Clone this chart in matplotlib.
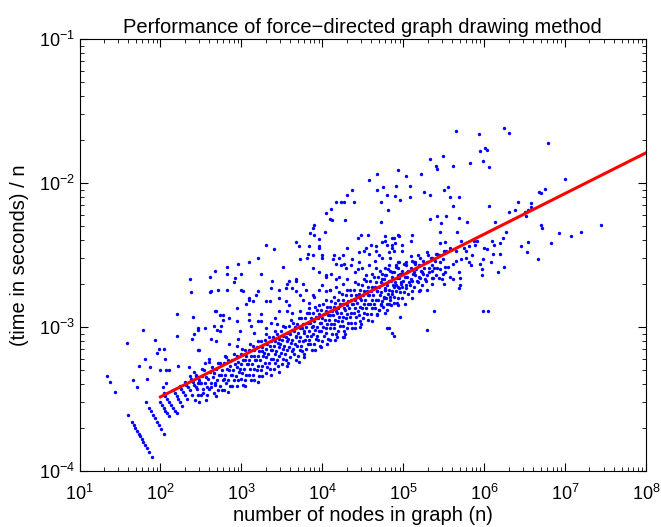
import numpy as np
import matplotlib.pyplot as plt

# all values stored as log10: log_n = log10(number of nodes), log_tn = log10(seconds per node)

# small graphs, where the timer resolution shows up as diagonal streaks
small_log_n = [1.34, 1.38, 1.44, 1.59, 1.60,
               1.65, 1.67, 1.69, 1.71, 1.73, 1.75, 1.77, 1.79, 1.81, 1.83, 1.86, 1.89,
               1.66, 1.71, 1.74, 1.79, 1.81, 1.84, 1.82,
               1.86, 1.88, 1.91, 1.93, 1.96, 1.98, 2.01, 2.04,
               1.87, 1.93, 1.96, 1.98, 2.04, 2.00, 2.07, 2.06, 2.03, 2.07,
               2.00, 2.02, 2.04, 2.06, 2.08, 2.10,
               2.04, 2.06, 2.08, 2.11, 2.13, 2.15, 2.18, 2.20,
               2.16, 2.18, 2.20, 2.22, 2.24, 2.27,
               2.24, 2.26, 2.28, 2.30, 2.33,
               2.30, 2.32, 2.34, 2.36, 2.39,
               2.36, 2.38, 2.40, 2.42, 2.44,
               2.42, 2.44, 2.46, 2.48, 2.50,
               2.11, 2.20, 2.20, 2.22, 2.35, 2.40, 2.41, 2.39, 2.47, 2.47, 2.36]
small_log_tn = [-3.34, -3.38, -3.45, -3.11, -3.61,
                -3.66, -3.68, -3.70, -3.72, -3.74, -3.76, -3.78, -3.80, -3.82, -3.84, -3.87, -3.90,
                -3.37, -3.42, -3.27, -3.02, -3.22, -3.36, -3.52,
                -3.56, -3.58, -3.61, -3.63, -3.66, -3.68, -3.71, -3.74,
                -3.28, -3.09, -3.18, -3.15, -3.15, -3.30, -3.30, -3.22, -3.42, -3.39,
                -3.52, -3.54, -3.56, -3.58, -3.60, -3.62,
                -3.46, -3.48, -3.50, -3.52, -3.54, -3.56, -3.58, -3.60,
                -3.44, -3.46, -3.48, -3.50, -3.52, -3.55,
                -3.41, -3.43, -3.45, -3.47, -3.50,
                -3.38, -3.40, -3.42, -3.44, -3.47,
                -3.34, -3.36, -3.38, -3.40, -3.42,
                -3.31, -3.33, -3.35, -3.37, -3.39,
                -3.30, -2.91, -3.06, -3.27, -3.28, -2.93, -3.05, -3.08, -3.02, -3.16, -2.67]

# main band of medium sized graphs
band_log_n = [2.44, 2.46, 2.45, 2.47, 2.43,
              2.51, 2.49, 2.52, 2.50, 2.48, 2.51,
              2.54, 2.56, 2.55, 2.57, 2.53, 2.56,
              2.61, 2.59, 2.62, 2.60, 2.58, 2.60,
              2.64, 2.66, 2.65, 2.67, 2.63, 2.66,
              2.71, 2.69, 2.72, 2.70, 2.68, 2.71, 2.69,
              2.74, 2.76, 2.75, 2.77, 2.73, 2.76,
              2.81, 2.79, 2.82, 2.80, 2.78, 2.81, 2.79,
              2.84, 2.86, 2.85, 2.87, 2.83, 2.86, 2.84,
              2.91, 2.89, 2.92, 2.90, 2.88, 2.91, 2.89,
              2.94, 2.96, 2.95, 2.97, 2.93, 2.96, 2.94, 2.95,
              3.01, 2.99, 3.02, 3.00, 2.98, 3.01, 2.99, 3.02,
              3.04, 3.06, 3.05, 3.07, 3.03, 3.06, 3.04, 3.05,
              3.11, 3.09, 3.12, 3.10, 3.08, 3.11, 3.09, 3.12,
              3.14, 3.16, 3.15, 3.17, 3.13, 3.16, 3.14, 3.15, 3.16,
              3.21, 3.19, 3.22, 3.20, 3.18, 3.21, 3.19, 3.22, 3.20,
              3.24, 3.26, 3.25, 3.27, 3.23, 3.26, 3.24, 3.25,
              3.31, 3.29, 3.32, 3.30, 3.28, 3.31, 3.29, 3.32, 3.30,
              3.34, 3.36, 3.35, 3.37, 3.33, 3.36, 3.34, 3.35, 3.37, 3.36,
              3.41, 3.39, 3.42, 3.40, 3.38, 3.41, 3.39, 3.42, 3.40,
              3.44, 3.46, 3.45, 3.47, 3.43, 3.46, 3.44, 3.45, 3.47, 3.44,
              3.51, 3.49, 3.52, 3.50, 3.48, 3.51, 3.49, 3.52, 3.50,
              3.54, 3.56, 3.55, 3.57, 3.53, 3.56, 3.54, 3.55, 3.57, 3.56,
              3.61, 3.59, 3.62, 3.60, 3.58, 3.61, 3.59, 3.62, 3.60, 3.58,
              3.64, 3.66, 3.65, 3.67, 3.63, 3.66, 3.64, 3.65, 3.67, 3.63,
              3.71, 3.69, 3.72, 3.70, 3.68, 3.71, 3.69, 3.72, 3.70, 3.71,
              3.74, 3.76, 3.75, 3.77, 3.73, 3.76, 3.74, 3.75, 3.77, 3.76,
              3.81, 3.79, 3.82, 3.80, 3.78, 3.81, 3.79, 3.82, 3.80, 3.78,
              3.84, 3.86, 3.85, 3.87, 3.83, 3.86, 3.84, 3.85, 3.87, 3.84,
              3.91, 3.89, 3.92, 3.90, 3.88, 3.91, 3.89, 3.92, 3.90, 3.91,
              3.94, 3.96, 3.95, 3.97, 3.93, 3.96, 3.94, 3.95, 3.97, 3.96,
              4.01, 3.99, 4.02, 4.00, 3.98, 4.01, 3.99, 4.02, 4.00, 3.98,
              4.04, 4.06, 4.05, 4.07, 4.03, 4.06, 4.04, 4.05, 4.07, 4.06,
              4.11, 4.09, 4.12, 4.10, 4.08, 4.11, 4.09, 4.12, 4.10, 4.09,
              4.14, 4.16, 4.15, 4.17, 4.13, 4.16, 4.14, 4.15, 4.17, 4.16,
              4.21, 4.19, 4.22, 4.20, 4.18, 4.21, 4.19, 4.22, 4.20, 4.18, 4.21,
              4.24, 4.26, 4.25, 4.27, 4.23, 4.26, 4.24, 4.25, 4.27, 4.26,
              4.31, 4.29, 4.32, 4.30, 4.28, 4.31, 4.29, 4.32, 4.30, 4.28, 4.30,
              4.34, 4.36, 4.35, 4.37, 4.33, 4.36, 4.34, 4.35, 4.37,
              4.41, 4.39, 4.42, 4.40, 4.38, 4.41, 4.39, 4.42, 4.40, 4.41,
              4.44, 4.46, 4.45, 4.47, 4.43, 4.46, 4.44, 4.45, 4.47, 4.46, 4.44,
              4.51, 4.49, 4.52, 4.50, 4.48, 4.51, 4.49, 4.52, 4.50, 4.48,
              4.54, 4.56, 4.55, 4.57, 4.53, 4.56, 4.54, 4.55, 4.57,
              4.61, 4.59, 4.62, 4.60, 4.58, 4.61, 4.59, 4.62, 4.60, 4.61,
              4.64, 4.66, 4.65, 4.67, 4.63, 4.66, 4.64, 4.65, 4.67, 4.65,
              4.71, 4.69, 4.72, 4.70, 4.68, 4.71, 4.69, 4.72, 4.70, 4.68,
              4.74, 4.76, 4.75, 4.77, 4.73, 4.76, 4.74, 4.75, 4.77,
              4.81, 4.79, 4.82, 4.80, 4.78, 4.81, 4.79, 4.82, 4.80,
              4.84, 4.86, 4.85, 4.87, 4.83, 4.86, 4.84, 4.85,
              4.91, 4.89, 4.92, 4.90, 4.88, 4.91, 4.89, 4.92,
              4.94, 4.96, 4.95, 4.97, 4.93, 4.96, 4.94,
              5.01, 4.99, 5.02, 5.00, 4.98, 5.01, 4.99,
              5.04, 5.06, 5.05, 5.07, 5.03, 5.06,
              5.11, 5.09, 5.12, 5.10, 5.08, 5.11,
              5.14, 5.16, 5.15, 5.17, 5.13,
              5.21, 5.19, 5.22, 5.20, 5.18, 5.21,
              5.24, 5.26, 5.25, 5.27, 5.23,
              5.31, 5.29, 5.32, 5.30, 5.28,
              5.34, 5.36, 5.35, 5.37,
              5.41, 5.39, 5.42, 5.40,
              5.44, 5.46, 5.45,
              5.51, 5.49, 5.52]
band_log_tn = [-3.34, -3.39, -3.43, -3.47, -3.51,
               -3.34, -3.39, -3.43, -3.47, -3.52, -3.29,
               -3.30, -3.35, -3.39, -3.42, -3.46, -3.51,
               -3.31, -3.36, -3.39, -3.43, -3.47, -3.24,
               -3.28, -3.32, -3.35, -3.39, -3.42, -3.46,
               -3.25, -3.29, -3.33, -3.37, -3.40, -3.44, -3.48,
               -3.25, -3.30, -3.33, -3.37, -3.41, -3.44,
               -3.21, -3.25, -3.29, -3.33, -3.36, -3.39, -3.44,
               -3.23, -3.27, -3.30, -3.33, -3.37, -3.41, -3.45,
               -3.19, -3.23, -3.26, -3.30, -3.33, -3.37, -3.41,
               -3.20, -3.24, -3.28, -3.31, -3.34, -3.37, -3.41, -3.13,
               -3.15, -3.19, -3.23, -3.26, -3.29, -3.32, -3.36, -3.40,
               -3.16, -3.20, -3.23, -3.26, -3.29, -3.33, -3.37, -3.41,
               -3.12, -3.16, -3.20, -3.23, -3.26, -3.29, -3.33, -3.37,
               -3.13, -3.16, -3.20, -3.23, -3.26, -3.29, -3.33, -3.37, -3.04,
               -3.10, -3.14, -3.17, -3.20, -3.23, -3.27, -3.30, -3.34, -3.38,
               -3.10, -3.14, -3.17, -3.20, -3.23, -3.27, -3.30, -3.34,
               -3.05, -3.09, -3.12, -3.15, -3.18, -3.21, -3.25, -3.28, -3.32,
               -3.07, -3.10, -3.13, -3.16, -3.19, -3.22, -3.25, -3.29, -3.33, -2.97,
               -3.03, -3.07, -3.10, -3.13, -3.16, -3.19, -3.22, -3.25, -3.29,
               -3.05, -3.08, -3.11, -3.14, -3.17, -3.20, -3.23, -3.27, -3.31, -2.98,
               -2.99, -3.03, -3.06, -3.09, -3.12, -3.15, -3.18, -3.22, -3.26,
               -3.00, -3.04, -3.07, -3.10, -3.13, -3.16, -3.19, -3.23, -3.27, -2.89,
               -2.95, -2.99, -3.02, -3.05, -3.08, -3.11, -3.14, -3.17, -3.21, -3.25,
               -2.97, -3.00, -3.03, -3.06, -3.09, -3.12, -3.15, -3.19, -3.23, -2.90,
               -2.94, -2.98, -3.01, -3.04, -3.07, -3.10, -3.13, -3.16, -3.20, -3.24,
               -2.94, -2.98, -3.01, -3.04, -3.07, -3.10, -3.13, -3.17, -3.21, -2.81,
               -2.90, -2.94, -2.97, -3.00, -3.03, -3.06, -3.09, -3.12, -3.15, -3.19,
               -2.90, -2.94, -2.97, -3.00, -3.03, -3.06, -3.09, -3.12, -3.16, -2.83,
               -2.86, -2.90, -2.93, -2.96, -2.99, -3.02, -3.05, -3.08, -3.12, -3.16,
               -2.88, -2.91, -2.94, -2.97, -3.00, -3.03, -3.06, -3.09, -3.13, -2.74,
               -2.84, -2.88, -2.91, -2.94, -2.97, -3.00, -3.03, -3.06, -3.10, -3.14,
               -2.81, -2.86, -2.89, -2.92, -2.95, -2.98, -3.01, -3.04, -3.08, -3.12,
               -2.82, -2.86, -2.89, -2.92, -2.95, -2.98, -3.01, -3.05, -3.09, -2.74,
               -2.79, -2.83, -2.86, -2.89, -2.92, -2.95, -2.98, -3.01, -3.05, -3.09,
               -2.76, -2.81, -2.84, -2.87, -2.90, -2.93, -2.96, -2.99, -3.03, -3.07, -2.65,
               -2.77, -2.81, -2.84, -2.87, -2.90, -2.93, -2.96, -2.99, -3.03, -3.07,
               -2.74, -2.78, -2.82, -2.85, -2.88, -2.91, -2.94, -2.97, -3.01, -3.05, -2.67,
               -2.74, -2.78, -2.81, -2.84, -2.87, -2.90, -2.93, -2.97, -3.01,
               -2.69, -2.74, -2.78, -2.81, -2.84, -2.87, -2.90, -2.93, -2.97, -3.01,
               -2.70, -2.74, -2.77, -2.80, -2.83, -2.86, -2.89, -2.92, -2.96, -3.00, -2.60,
               -2.67, -2.71, -2.75, -2.78, -2.81, -2.84, -2.87, -2.90, -2.94, -2.98,
               -2.68, -2.72, -2.75, -2.78, -2.81, -2.84, -2.87, -2.91, -2.95,
               -2.63, -2.68, -2.72, -2.75, -2.78, -2.81, -2.84, -2.87, -2.91, -2.96,
               -2.65, -2.69, -2.72, -2.75, -2.78, -2.81, -2.84, -2.87, -2.91, -2.54,
               -2.61, -2.65, -2.69, -2.72, -2.75, -2.78, -2.81, -2.84, -2.88, -2.92,
               -2.63, -2.67, -2.70, -2.73, -2.76, -2.79, -2.82, -2.86, -2.90,
               -2.60, -2.64, -2.68, -2.71, -2.74, -2.77, -2.80, -2.84, -2.88,
               -2.61, -2.65, -2.68, -2.71, -2.74, -2.77, -2.81, -2.85,
               -2.58, -2.62, -2.66, -2.69, -2.72, -2.75, -2.79, -2.83,
               -2.59, -2.63, -2.66, -2.69, -2.72, -2.76, -2.80,
               -2.56, -2.61, -2.65, -2.68, -2.72, -2.76, -2.80,
               -2.57, -2.61, -2.65, -2.69, -2.73, -2.77,
               -2.54, -2.59, -2.63, -2.67, -2.71, -2.75,
               -2.56, -2.60, -2.64, -2.68, -2.72,
               -2.52, -2.57, -2.61, -2.65, -2.69, -2.74,
               -2.54, -2.59, -2.63, -2.67, -2.71,
               -2.50, -2.55, -2.59, -2.64, -2.68,
               -2.52, -2.57, -2.61, -2.66,
               -2.49, -2.54, -2.59, -2.64,
               -2.50, -2.55, -2.60,
               -2.47, -2.53, -2.58]

# slower runs scattered above (and a few below) the band
upper_log_n = [2.38, 2.61, 2.82, 3.00, 2.46, 2.48, 2.68, 2.74, 2.77, 2.85, 2.75, 2.63, 2.69, 2.74,
               2.94, 3.06, 3.10, 3.18, 3.31, 3.24, 3.10, 3.20, 2.98, 2.96, 2.85, 2.80, 2.60, 2.55,
               4.68, 4.58, 4.75, 4.94, 4.67, 4.80, 4.73, 4.81, 4.37, 4.31, 4.27, 4.17, 4.23, 4.39,
               4.11, 4.04, 4.09, 4.12, 4.28, 3.90, 3.89, 4.03, 3.85, 3.90, 3.96, 3.68, 3.71, 3.83,
               3.96, 4.48, 4.72, 4.60, 4.66, 4.78, 4.89, 4.94, 4.86, 3.31, 3.40, 3.20, 3.09, 2.96,
               2.82, 2.68, 2.61, 2.92, 3.00, 3.24, 3.38, 3.51, 3.82, 3.81, 3.88, 4.00, 3.72, 3.56,
               3.67, 3.67, 3.72, 3.80, 2.62, 2.71, 3.02, 3.10, 3.14, 3.21, 3.35, 3.37, 3.47, 3.63,
               4.15, 4.25, 4.17, 4.27, 4.37, 4.45, 4.54, 4.29, 4.41, 4.54, 4.66, 4.78, 4.91, 4.11,
               4.04, 4.17, 4.00, 4.04, 3.90, 3.96, 3.84, 3.72, 3.59, 3.47, 3.10, 2.94, 2.77, 2.70,
               3.12, 3.24, 3.31, 3.41, 4.80, 4.86, 4.27, 2.69, 2.66, 2.55, 2.91, 2.82,
               4.31, 4.52, 4.58, 4.66, 4.70, 4.86, 3.96, 4.00, 4.13, 4.21, 4.23, 4.35, 4.45, 4.49,
               4.58, 4.82, 4.95, 5.15, 3.88, 3.96, 4.04, 3.59, 3.67, 3.76, 3.55, 3.88, 4.09, 4.17,
               4.25, 3.47, 3.55, 4.56, 4.44,
               4.74, 4.78, 4.80, 4.86, 4.90, 4.95, 4.99, 4.98, 4.89, 4.82, 4.74, 4.84, 4.93, 5.03,
               5.09, 5.09, 5.11, 4.78, 4.86, 4.93, 4.99, 5.05, 4.74, 4.82, 4.91, 4.97, 5.03, 4.78,
               4.86, 4.95, 4.76, 4.84, 4.72, 4.80, 4.89, 4.70]
upper_log_tn = [-2.76, -2.76, -2.74, -2.74, -3.01, -3.16, -2.89, -2.92, -2.95, -2.94, -2.99, -3.08, -3.10, -3.03,
                -2.87, -2.84, -2.80, -2.78, -2.82, -2.91, -2.95, -2.96, -3.03, -3.08, -3.12, -3.20, -3.22, -3.25,
                -1.94, -1.98, -2.03, -1.91, -2.05, -2.08, -2.13, -2.19, -2.05, -2.08, -2.13, -2.13, -2.13, -2.13,
                -2.18, -2.21, -2.25, -2.26, -2.26, -2.29, -2.31, -2.34, -2.35, -2.36, -2.39, -2.41, -2.44, -2.44,
                -2.44, -2.36, -2.27, -2.43, -2.44, -2.37, -2.38, -2.36, -2.43, -2.43, -2.46, -2.52, -2.55, -2.56,
                -2.58, -2.61, -2.65, -2.66, -2.63, -2.63, -2.68, -2.58, -2.49, -2.52, -2.50, -2.52, -2.53, -2.70,
                -2.68, -2.75, -2.78, -2.74, -2.75, -2.74, -2.75, -2.81, -2.82, -2.75, -2.82, -2.73, -2.74, -2.73,
                -2.50, -2.50, -2.56, -2.56, -2.53, -2.48, -2.45, -2.59, -2.62, -2.64, -2.59, -2.64, -2.57, -2.63,
                -2.64, -2.67, -2.71, -2.75, -2.79, -2.85, -2.87, -2.89, -2.85, -2.89, -2.91, -2.96, -2.92, -3.02,
                -2.99, -2.96, -3.01, -2.94, -3.01, -3.04, -3.07, -2.89, -2.99, -3.01, -2.69, -2.63,
                -2.45, -2.47, -2.49, -2.47, -2.50, -2.45, -2.45, -2.50, -2.53, -2.52, -2.57, -2.57, -2.55, -2.59,
                -2.57, -2.57, -2.55, -2.55, -2.59, -2.62, -2.65, -2.68, -2.67, -2.70, -2.73, -2.78, -2.74, -2.72,
                -2.70, -2.80, -2.82, -2.36, -2.38,
                -2.41, -2.40, -2.43, -2.38, -2.42, -2.37, -2.43, -2.47, -2.47, -2.48, -2.52, -2.52, -2.55, -2.55,
                -2.51, -2.40, -2.36, -2.59, -2.62, -2.64, -2.63, -2.62, -2.67, -2.68, -2.71, -2.70, -2.71, -2.74,
                -2.75, -2.73, -2.80, -2.79, -2.85, -2.84, -2.83, -2.88]

# the largest graphs
large_log_n = [5.13, 5.18, 5.30, 5.36, 5.42, 5.53, 5.58, 5.65, 5.72, 5.75, 5.81, 5.91, 5.52, 5.46,
               5.32, 5.38, 5.36, 5.35, 5.49, 5.52, 5.58, 5.61, 5.70, 5.70, 5.69, 5.69, 5.65, 5.13,
               5.23, 5.21, 5.11, 5.19, 5.30, 5.11, 5.02, 4.94, 4.96, 5.38, 5.30, 4.82, 4.89,
               5.65, 5.94, 6.25, 6.31, 6.79, 5.95, 6.01, 6.03, 5.99, 6.06, 5.83, 5.33, 5.49, 5.40,
               5.42, 5.62, 5.03, 5.22, 4.91, 5.08, 5.26, 5.33, 5.51, 5.55, 5.58, 5.69, 4.90, 4.96,
               5.08, 5.62, 5.33, 5.42, 5.53, 5.69, 5.47, 5.45, 5.66, 5.79, 6.06, 6.14, 6.27, 6.31,
               6.38, 6.42, 6.51, 6.58, 6.68, 6.70, 6.75, 7.00, 6.70, 6.71, 6.92, 7.07, 6.83, 6.46,
               6.53, 6.66, 6.25, 6.17, 6.10, 6.20, 6.11, 6.08, 6.00, 5.89, 5.87, 5.77, 5.81, 5.72,
               5.84, 5.95, 5.99, 5.97, 5.98, 6.05, 6.58, 6.54, 6.52, 6.54, 7.20, 7.44, 6.19, 5.97,
               5.44, 5.50, 5.48, 5.55, 5.62, 5.78, 5.85, 6.03, 6.12, 6.23]
large_log_tn = [-2.55, -2.50, -2.48, -2.52, -2.49, -2.47, -2.45, -2.47, -2.40, -2.45, -2.44, -2.40, -2.41, -2.42,
                -2.62, -2.59, -2.66, -2.70, -2.63, -2.62, -2.65, -2.67, -2.66, -2.71, -2.73, -2.62, -2.54, -2.62,
                -2.62, -2.66, -2.68, -2.75, -2.74, -2.80, -2.84, -2.85, -2.93, -2.89, -3.02, -3.01, -3.06,
                -1.64, -1.66, -1.62, -1.65, -1.72, -1.78, -1.76, -1.77, -1.85, -1.89, -1.86, -1.83, -1.81, -1.88,
                -1.90, -1.88, -1.95, -1.94, -2.02, -2.02, -2.06, -2.08, -2.05, -2.03, -2.10, -2.10, -2.09, -2.12,
                -2.10, -2.16, -2.25, -2.23, -2.23, -2.24, -2.28, -2.34, -2.34, -2.27, -2.16, -2.27, -2.34, -2.20,
                -2.19, -2.13, -2.20, -2.17, -2.06, -2.07, -2.04, -1.97, -2.29, -2.31, -2.35, -2.37, -2.42, -2.44,
                -2.48, -2.53, -2.58, -2.62, -2.40, -2.42, -2.49, -2.55, -2.45, -2.43, -2.40, -2.52, -2.55, -2.53,
                -2.57, -2.56, -2.53, -2.60, -2.89, -2.89, -2.14, -2.19, -2.23, -2.41, -2.34, -2.29, -2.49, -2.64,
                -2.66, -2.70, -2.67, -2.58, -2.56, -2.47, -2.50, -2.46, -2.43, -2.38]

# power-law fit drawn through the cloud
fit_n = [1e2, 1e8]
fit_tn = [3.27e-4, 1.62e-2]

plt.rcParams['font.family'] = 'Liberation Sans'
plt.rcParams['mathtext.fontset'] = 'custom'
plt.rcParams['mathtext.rm'] = 'Liberation Sans'
plt.rcParams['mathtext.it'] = 'Liberation Sans:italic'
plt.rcParams['axes.linewidth'] = 0.8

fig = plt.figure(figsize=(6.61, 5.27), dpi=100)
ax = fig.add_axes([0.1203, 0.1063, 0.8570, 0.8197])

groups = [(small_log_n, small_log_tn), (band_log_n, band_log_tn),
          (upper_log_n, upper_log_tn), (large_log_n, large_log_tn)]
for log_n, log_tn in groups:
    ax.scatter(10 ** np.array(log_n), 10 ** np.array(log_tn), s=6, c='#0000ff',
               marker='o', linewidths=0, zorder=2)

ax.plot(fit_n, fit_tn, color='#ff0000', lw=2.2, zorder=3)

ax.set_xscale('log')
ax.set_yscale('log')
ax.set_xlim(1e1, 1e8)
ax.set_ylim(1e-4, 1e-1)
ax.set_xticks([10.0 ** k for k in range(1, 9)])
ax.set_yticks([10.0 ** k for k in range(-4, 0)])
ax.tick_params(which='both', direction='in', top=True, right=True, labelsize=13)
ax.tick_params(which='major', length=6, width=0.8)
ax.tick_params(which='minor', length=3, width=0.6)
ax.tick_params(axis='x', which='major', pad=9)

ax.set_title('Performance of force\u2212directed graph drawing method', fontsize=14.5, pad=4)
ax.set_xlabel('number of nodes in graph (n)', fontsize=14.5, labelpad=2)
ax.set_ylabel('(time in seconds) / n', fontsize=14.5, labelpad=7)

fig.savefig('out.png', dpi=100)
